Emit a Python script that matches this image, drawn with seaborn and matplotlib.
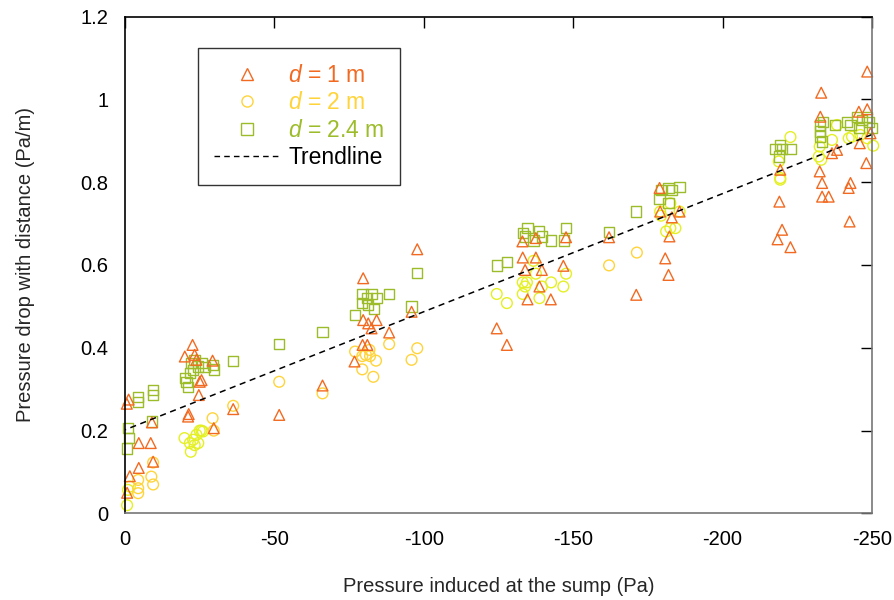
import matplotlib
matplotlib.use("Agg")
import matplotlib.pyplot as plt
import seaborn as sns
from matplotlib.lines import Line2D

# ---- data ----
d1_x = [-0.6, -1.2, -0.7, -1.6, -4.6, -4.6, -8.6, -9.4, -9.0, -21.1, -21.3, -22.6, -20.0, -23.3,
        -23.9, -25.0, -25.6, -24.7, -29.3, -29.7, -36.2, -51.6, -66.1, -79.7, -79.7, -81.4, -84.2,
        -82.5, -88.4, -79.5, -81.1, -76.8, -97.8, -95.9, -133.0, -137.5, -147.6, -133.1, -137.5,
        -133.9, -139.5, -146.7, -138.7, -134.7, -142.5, -124.4, -127.8, -162.0, -171.1, -178.9,
        -179.1, -183.0, -185.6, -182.2, -180.8, -181.9, -248.4, -233.0, -232.7, -245.6, -248.4,
        -236.6, -238.3, -245.9, -219.3, -232.5, -233.3, -233.3, -235.5, -242.8, -242.2, -248.1,
        -219.0, -242.5, -219.9, -218.4, -222.7, -249.5]
d1_y = [0.265, 0.275, 0.05, 0.09, 0.11, 0.17, 0.17, 0.125, 0.22, 0.234, 0.24, 0.407, 0.379, 0.383,
        0.371, 0.318, 0.322, 0.286, 0.369, 0.206, 0.252, 0.238, 0.309, 0.568, 0.467, 0.459, 0.467,
        0.447, 0.437, 0.407, 0.407, 0.367, 0.638, 0.487, 0.657, 0.665, 0.667, 0.618, 0.618,
        0.588, 0.588, 0.598, 0.548, 0.517, 0.517, 0.447, 0.407, 0.667, 0.528, 0.786,
        0.729, 0.715, 0.729, 0.669, 0.616, 0.576, 1.067, 1.016, 0.958, 0.970, 0.976,
        0.870, 0.878, 0.894, 0.830, 0.826, 0.798, 0.765, 0.765, 0.798, 0.786, 0.846,
        0.753, 0.705, 0.685, 0.662, 0.643, 0.918]

d2_gold_x = [-4.4, -4.4, -4.4, -8.8, -9.4, -9.4, -29.3, -29.7, -36.2, -51.6, -66.1, -77.0, -79.4,
             -79.4, -80.6, -82.0, -81.8, -84.0, -83.1, -88.4, -97.8, -95.9, -162.0, -171.3]
d2_gold_y = [0.081, 0.061, 0.049, 0.089, 0.07, 0.123, 0.23, 0.2, 0.26, 0.318, 0.29, 0.391, 0.38,
             0.348, 0.383, 0.38, 0.395, 0.369, 0.33, 0.409, 0.399, 0.371, 0.599, 0.63]

d2_lime_x = [-0.7, -1.0, -1.6, -19.9, -21.7, -22.0, -22.8, -23.9, -25.0, -26.1, -23.3, -24.5, -25.6,
             -124.4, -127.8, -136.7, -133.1, -134.5, -133.9, -133.1, -137.5, -139.5, -138.7, -142.6,
             -146.7, -147.6, -182.5, -179.1, -179.4, -185.6, -181.1, -182.5, -184.2, -222.7, -218.8,
             -219.3, -219.3, -232.5, -232.2, -233.0, -236.6, -242.2, -243.3, -246.1, -248.4, -250.4,
             -238.3]
d2_lime_y = [0.02, 0.057, 0.065, 0.182, 0.17, 0.149, 0.178, 0.19, 0.2, 0.198, 0.165, 0.17, 0.2,
             0.53, 0.508, 0.61, 0.558, 0.558, 0.548, 0.53, 0.579, 0.548, 0.52, 0.558,
             0.548, 0.579, 0.749, 0.729, 0.719, 0.729, 0.681, 0.689, 0.689, 0.909, 0.85,
             0.81, 0.806, 0.886, 0.862, 0.854, 0.902, 0.906, 0.91, 0.914, 0.906, 0.888,
             0.938]

d24_x = [-1.0, -1.3, -0.7, -4.4, -4.4, -9.4, -9.4, -9.0, -20.6, -21.1, -21.7, -22.2, -23.3, -24.5,
         -25.6, -26.7, -29.5, -29.7, -22.8, -20.0, -36.2, -51.6, -66.1, -76.9, -79.5, -79.2, -80.9,
         -82.5, -84.2, -81.4, -83.3, -88.4, -95.9, -97.8, -124.4, -127.8, -134.7, -133.1, -133.9,
         -136.7, -138.6, -139.5, -142.6, -147.6, -147.0, -162.0, -171.1, -178.9, -179.4, -181.9,
         -185.6, -183.0, -181.9, -232.7, -232.7, -232.7, -233.3, -233.6, -237.7, -241.7, -242.8,
         -245.0, -246.7, -248.4, -248.9, -250.0, -245.6, -217.7, -219.3, -219.9, -222.7, -218.8]
d24_y = [0.206, 0.182, 0.157, 0.282, 0.27, 0.298, 0.286, 0.222, 0.318, 0.306, 0.339, 0.363, 0.371,
         0.355, 0.363, 0.353, 0.359, 0.348, 0.347, 0.327, 0.369, 0.409, 0.439, 0.479, 0.53, 0.509,
         0.52, 0.53, 0.52, 0.504, 0.493, 0.53, 0.5, 0.58, 0.599, 0.608, 0.689, 0.678, 0.669,
         0.659, 0.681, 0.669, 0.659, 0.689, 0.659, 0.679, 0.729, 0.759, 0.781, 0.786,
         0.789, 0.781, 0.749, 0.938, 0.922, 0.91, 0.898, 0.946, 0.938, 0.946, 0.938,
         0.958, 0.95, 0.958, 0.946, 0.93, 0.93, 0.88, 0.89, 0.88, 0.88, 0.862]

trend_x = [0, -250]
trend_y = [0.202, 0.915]

leg_labels = ["$d$ = 1 m", "$d$ = 2 m", "$d$ = 2.4 m", "Trendline"]
xticks = [0, -50, -100, -150, -200, -250]
yticks = [0, 0.2, 0.4, 0.6, 0.8, 1.0, 1.2]

# ---- style ----
sns.set_style("white")
plt.rcParams["font.family"] = ["Liberation Sans", "DejaVu Sans"]
plt.rcParams["axes.unicode_minus"] = False
plt.rcParams["mathtext.fontset"] = "custom"
plt.rcParams["mathtext.it"] = "Liberation Sans:italic"
plt.rcParams["mathtext.rm"] = "Liberation Sans"

C1 = "#F26A21"
C2 = "#FFD43B"
C2b = "#E4F023"
C3 = "#9CBC2A"

fig, ax = plt.subplots(figsize=(8.95, 6.0), dpi=100)
fig.subplots_adjust(left=0.1397, right=0.9743, top=0.9725, bottom=0.1442)

kw = dict(facecolor="none", linewidth=1.0, clip_on=False, ax=ax, legend=False)
sns.scatterplot(x=d2_lime_x, y=d2_lime_y, marker="o", s=60, edgecolor=C2b, color=C2b, **kw)
sns.scatterplot(x=d2_gold_x, y=d2_gold_y, marker="o", s=60, edgecolor=C2, color=C2, **kw)
sns.scatterplot(x=d24_x, y=d24_y, marker="s", s=55, edgecolor=C3, color=C3, **kw)
sns.scatterplot(x=d1_x, y=d1_y, marker="^", s=60, edgecolor=C1, color=C1, **kw)
sns.lineplot(x=trend_x, y=trend_y, color="black", linewidth=1.1, ax=ax,
             dashes=False, linestyle=(0, (4, 3)), legend=False)

ax.set_xlim(0, -250)
ax.set_ylim(0, 1.2)
ax.set_xticks(xticks)
ax.set_xticklabels([f"{t:g}" for t in xticks])
ax.set_yticks(yticks)
ax.set_yticklabels([f"{t:g}" for t in yticks])
ax.tick_params(direction="in", length=8, width=1, top=True, right=True,
               labelsize=14.5, colors="black", pad=12)
ax.tick_params(axis="x", pad=12)
for s in ["left", "top"]:
    ax.spines[s].set_color("black")
for s in ["right", "bottom"]:
    ax.spines[s].set_color("#777777")
for s in ax.spines.values():
    s.set_linewidth(1.2)

ax.set_xlabel("Pressure induced at the sump (Pa)", fontsize=14.5, labelpad=20)
ax.set_ylabel("Pressure drop with distance (Pa/m)", fontsize=14.5, labelpad=33)

handles = [
    Line2D([], [], marker="^", linestyle="none", markerfacecolor="none", markeredgecolor=C1, markersize=9, markeredgewidth=1),
    Line2D([], [], marker="o", linestyle="none", markerfacecolor="none", markeredgecolor=C2, markersize=8, markeredgewidth=1),
    Line2D([], [], marker="s", linestyle="none", markerfacecolor="none", markeredgecolor=C3, markersize=8, markeredgewidth=1),
    Line2D([], [], color="black", linewidth=1.0, linestyle=(0, (4, 3))),
]
leg = ax.legend(handles, leg_labels, loc="upper left", bbox_to_anchor=(0.0977, 0.9366),
                borderaxespad=0, fontsize=16.5, frameon=True, fancybox=False,
                edgecolor="black", handlelength=2.9, handletextpad=0.35,
                labelspacing=0.2, borderpad=0.68)
leg.get_frame().set_linewidth(1.0)
for t, c in zip(leg.get_texts(), [C1, C2, C3, "black"]):
    t.set_color(c)

fig.savefig("out.png", dpi=100)
